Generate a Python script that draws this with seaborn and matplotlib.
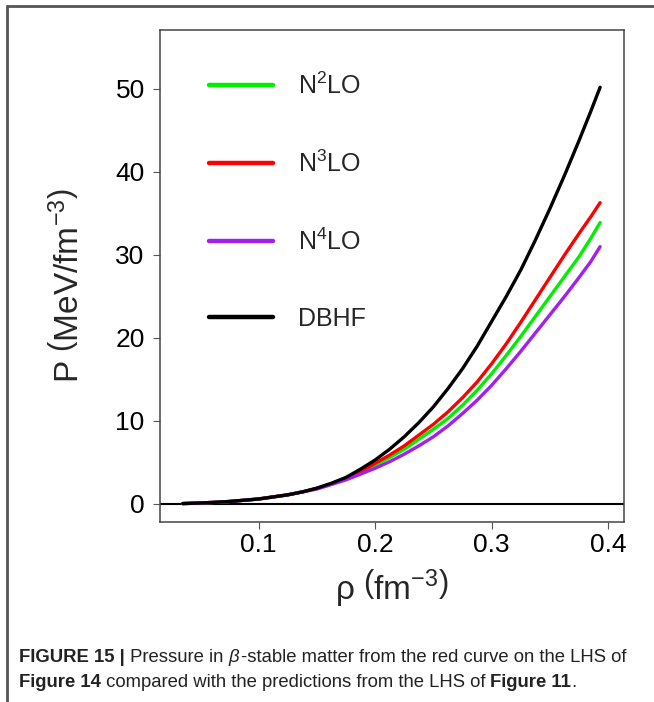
import numpy as np
import pandas as pd
import matplotlib
matplotlib.use("Agg")
import matplotlib.pyplot as plt
import seaborn as sns
from matplotlib import font_manager

# ---------------- data ----------------
rho = [0.035, 0.05, 0.0625, 0.075, 0.0875, 0.1, 0.1125, 0.125, 0.1375, 0.15,
       0.1625, 0.175, 0.1875, 0.2, 0.2125, 0.225, 0.2375, 0.25, 0.2625, 0.275,
       0.2875, 0.3, 0.3125, 0.325, 0.3375, 0.35, 0.3625, 0.375, 0.385, 0.393]
p_n2lo = [0.05, 0.12, 0.2, 0.3, 0.45, 0.6, 0.85, 1.1, 1.45, 1.85,
          2.4, 3.0, 3.8, 4.7, 5.6, 6.6, 7.8, 9.0, 10.3, 11.9,
          13.7, 15.7, 17.9, 20.2, 22.6, 25.0, 27.4, 29.8, 32.0, 33.9]
p_n3lo = [0.05, 0.12, 0.2, 0.3, 0.45, 0.6, 0.85, 1.1, 1.45, 1.9,
          2.45, 3.1, 3.9, 4.9, 5.9, 7.0, 8.3, 9.6, 11.1, 12.8,
          14.7, 16.9, 19.3, 21.9, 24.6, 27.3, 30.0, 32.6, 34.6, 36.3]
p_n4lo = [0.05, 0.12, 0.2, 0.3, 0.45, 0.6, 0.85, 1.1, 1.45, 1.8,
          2.35, 2.9, 3.6, 4.3, 5.1, 6.0, 7.0, 8.1, 9.4, 10.9,
          12.5, 14.3, 16.3, 18.4, 20.6, 22.8, 25.0, 27.3, 29.2, 31.0]
p_dbhf = [0.05, 0.12, 0.2, 0.3, 0.45, 0.6, 0.85, 1.1, 1.45, 1.9,
          2.5, 3.2, 4.2, 5.3, 6.6, 8.1, 9.8, 11.7, 13.9, 16.3,
          19.0, 22.0, 25.0, 28.2, 31.8, 35.6, 39.6, 43.8, 47.3, 50.2]
series_names = ["N$^2$LO", "N$^3$LO", "N$^4$LO", "DBHF"]
series_colors = ["#00ee00", "#ff0000", "#a020f0", "#000000"]
x_ticks = [0.1, 0.2, 0.3, 0.4]
y_ticks = [0, 10, 20, 30, 40, 50]

df = pd.DataFrame({
    "rho": rho * 4,
    "P": p_n2lo + p_n3lo + p_n4lo + p_dbhf,
    "model": sum([[n] * len(rho) for n in series_names], []),
})

# ---------------- style ----------------
sns.set_style("white")
avail = {f.name for f in font_manager.fontManager.ttflist}
main_font = "Liberation Sans" if "Liberation Sans" in avail else "DejaVu Sans"
cap_font = "Liberation Sans Narrow" if "Liberation Sans Narrow" in avail else main_font
plt.rcParams["font.family"] = [main_font, "DejaVu Sans"]
plt.rcParams["mathtext.fontset"] = "custom"
plt.rcParams["mathtext.rm"] = main_font
plt.rcParams["mathtext.it"] = main_font + ":italic"
plt.rcParams["mathtext.bf"] = main_font + ":bold"

W, H = 654, 702
fig = plt.figure(figsize=(W / 100, H / 100), dpi=100)
fig.patch.set_facecolor("white")
ax = fig.add_axes([160 / W, 1 - 522 / H, (624 - 160) / W, (522 - 30) / H])

sns.lineplot(data=df, x="rho", y="P", hue="model", hue_order=series_names,
             palette=series_colors, linewidth=2.4, ax=ax, legend=True,
             sort=False, estimator=None)

ax.axhline(0, color="black", linewidth=1.5, zorder=1)
ax.set_xlim(0.0155, 0.4135)
ax.set_ylim(-2.17, 57.1)
ax.set_xticks(x_ticks)
ax.set_xticklabels([f"{v:.1f}" for v in x_ticks])
ax.set_yticks(y_ticks)
ax.set_yticklabels([str(v) for v in y_ticks])
ax.tick_params(axis="both", bottom=True, left=True, direction="out", length=5,
               width=0.8, color="#555555", labelsize=19, labelcolor="black")
ax.tick_params(axis="x", pad=3)
ax.tick_params(axis="y", pad=6)
for s in ax.spines.values():
    s.set_color("#444444")
    s.set_linewidth(1.1)

ax.set_xlabel(r"$\mathrm{\rho}\ \left(\mathrm{fm}^{-3}\right)$", fontsize=24)
ax.xaxis.set_label_coords(0.5, -0.092)
ax.set_ylabel(r"P$\ \left(\mathrm{MeV}/\mathrm{fm}^{-3}\right)$", fontsize=24)
ax.yaxis.set_label_coords(-0.162, 0.48)

leg = ax.legend(loc="upper left", bbox_to_anchor=(0.084, 0.934), frameon=False,
                fontsize=18, handlelength=2.55, handletextpad=1.0,
                labelspacing=2.07, borderaxespad=0)
for line in leg.get_lines():
    line.set_linewidth(3.2)

# outer border (top and left)
fig.add_artist(plt.Line2D([7 / W, 1], [1 - 6 / H, 1 - 6 / H],
                          transform=fig.transFigure, color="#555555", lw=2))
fig.add_artist(plt.Line2D([7 / W, 7 / W], [0, 1 - 6 / H],
                          transform=fig.transFigure, color="#555555", lw=2))

# caption
cap_size = 13.3
renderer = fig.canvas.get_renderer()

def put_line(pieces, x0, y0):
    x = x0
    for txt, bold in pieces:
        t = fig.text(x, y0, txt, fontsize=cap_size, family=[cap_font, "DejaVu Sans"],
                     fontweight="bold" if bold else "normal", color="#222222",
                     va="baseline", ha="left")
        bb = t.get_window_extent(renderer=renderer)
        x = x + bb.width / W

line1 = [("FIGURE 15 |", True), (" Pressure in ", False), (r"$\beta$", False),
         ("-stable matter from the red curve on the LHS of", False)]
line2 = [("Figure 14", True), (" compared with the predictions from the LHS of ", False),
         ("Figure 11", True), (".", False)]
put_line(line1, 19 / W, 1 - 662 / H)
put_line(line2, 19 / W, 1 - 687 / H)

fig.savefig("out.png", dpi=100, facecolor="white")
